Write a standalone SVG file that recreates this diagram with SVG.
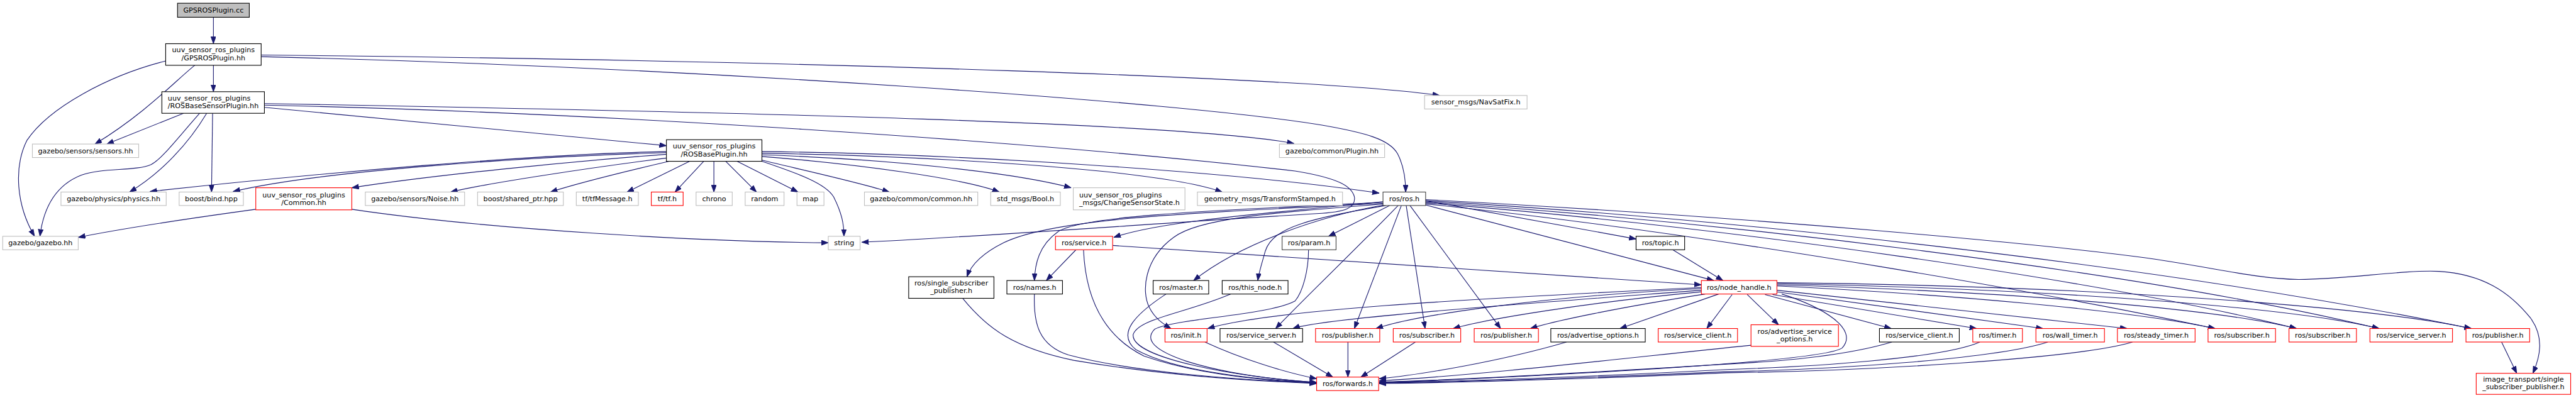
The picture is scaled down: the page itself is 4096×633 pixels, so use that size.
<svg xmlns="http://www.w3.org/2000/svg" width="4096" height="633" viewBox="0 0 4096 633">
<style>
.n rect{fill:#fff;stroke-width:1.3}
.g rect{stroke:#bfbfbf}
.b rect{stroke:#000}
.d rect{stroke:#404040}
.r rect{stroke:#ff0000}
.n text{font-family:"DejaVu Sans","Liberation Sans",sans-serif;font-size:13px;fill:#000;text-anchor:middle}
.n text.l{text-anchor:start}
#edges path{fill:none;stroke:#191970;stroke-width:1.3;marker-end:url(#ah)}
</style>
<defs>
<marker id="ah" markerUnits="userSpaceOnUse" markerWidth="14" markerHeight="10" refX="13" refY="4.7" orient="auto">
<path d="M0,0 L13,4.7 L0,9.4 z" fill="#191970" stroke="#191970" stroke-width="1"/>
</marker>
</defs>
<rect width="4096" height="633" fill="#fff"/>
<g transform="scale(0.858)">
<g id="edges">
<path d="M395.5,32 L395.5,81"/>
<path d="M395.5,121 L395.5,170"/>
<path d="M361,121 C330,145 270,210 176,267"/>
<path d="M307,113 C200,140 90,200 50,260 C25,310 30,380 64,438"/>
<path d="M484,102 C1500,112 2450,145 2668,177"/>
<path d="M484,105 C1300,125 2200,190 2450,232 C2530,246 2575,258 2590,285 C2603,310 2605,335 2605,356"/>
<path d="M340,210 L198,267"/>
<path d="M383,210 C350,265 300,320 240,356"/>
<path d="M394,210 L392,356"/>
<path d="M370,210 C330,255 300,295 280,305 C250,318 190,310 150,325 C100,345 80,390 74,438"/>
<path d="M490,199 L1235,270"/>
<path d="M490,192 C1400,208 2200,228 2398,266"/>
<path d="M490,195 C1100,208 1900,260 2400,317 C2480,330 2505,345 2510,365 C2513,385 2495,393 2440,396 C2200,410 1800,440 1597,449"/>
<path d="M1235,281 C1000,285 600,320 278,355"/>
<path d="M1235,283 C1000,290 600,315 432,355"/>
<path d="M1235,286 C1050,300 800,325 652,348"/>
<path d="M1235,293 C1100,310 900,340 835,356"/>
<path d="M1240,299 C1150,320 1060,343 1020,356"/>
<path d="M1278,299 L1162,356"/>
<path d="M1304,299 L1251,356"/>
<path d="M1323,299 L1323,356"/>
<path d="M1345,299 L1402,356"/>
<path d="M1366,299 L1479,356"/>
<path d="M1412,299 C1480,322 1530,340 1545,365 C1560,395 1564,415 1564,438"/>
<path d="M1412,297 C1500,318 1600,340 1648,356"/>
<path d="M1412,290 C1600,305 1790,332 1852,356"/>
<path d="M1412,287 C1650,295 1880,320 1985,348"/>
<path d="M1412,284 C1750,290 2150,315 2265,356"/>
<path d="M1412,281 C1800,285 2300,320 2556,358"/>
<path d="M474,388 C350,405 220,425 145,440"/>
<path d="M652,388 C900,425 1300,448 1535,450"/>
<path d="M2575,381 L2462,438"/>
<path d="M2642,372 L3032,443"/>
<path d="M2642,380 L3176,520"/>
<path d="M2597,381 L2510,609"/>
<path d="M2606,381 L2641,609"/>
<path d="M2613,381 L2781,609"/>
<path d="M2591,381 C2520,455 2420,550 2364,609"/>
<path d="M2563,374 C2350,395 2150,410 2064,440"/>
<path d="M2563,377 C2200,395 1950,405 1860,450 C1820,470 1800,490 1792,513"/>
<path d="M2563,375 C2250,390 2000,400 1960,430 C1925,455 1918,490 1917,520"/>
<path d="M2565,380 C2450,400 2300,450 2212,520"/>
<path d="M2568,381 C2430,405 2360,420 2345,465 C2338,490 2333,505 2331,520"/>
<path d="M2565,378 C2350,395 2220,405 2175,440 C2120,480 2115,540 2130,570 C2140,590 2155,600 2170,609"/>
<path d="M2642,378 C3200,435 3850,555 4105,609"/>
<path d="M2642,376 C3200,420 3900,520 4256,609"/>
<path d="M2642,374 C3200,412 3950,500 4409,609"/>
<path d="M2642,372 C3200,405 4000,490 4580,609"/>
<path d="M2642,370 C3300,405 3800,455 3969,477 C4100,495 4180,517 4260,518 C4350,518 4450,500 4520,503 C4600,508 4650,540 4690,590 C4715,625 4708,660 4694,692"/>
<path d="M3293,530 C3600,545 3950,575 4105,609"/>
<path d="M3293,528 C3700,540 4100,570 4256,609"/>
<path d="M3293,526 C3800,535 4250,570 4409,609"/>
<path d="M3293,524 C3900,530 4400,570 4580,609"/>
<path d="M3293,538 L3942,609"/>
<path d="M3293,541 L3786,609"/>
<path d="M3285,546 L3663,609"/>
<path d="M3271,546 L3505,609"/>
<path d="M3238,546 L3296,602"/>
<path d="M3210,546 L3163,609"/>
<path d="M3185,545 L3002,609"/>
<path d="M3160,545 C3000,570 2880,595 2836,609"/>
<path d="M3153,541 C2950,560 2760,590 2693,609"/>
<path d="M3153,535 C2850,550 2620,585 2550,609"/>
<path d="M3153,533 C2700,555 2350,575 2238,609"/>
<path d="M3153,538 C2800,565 2450,590 2396,609"/>
<path d="M3302,545 C3380,570 3445,610 3414,645 C3380,670 2900,695 2556,710"/>
<path d="M1994,463 L1939,520"/>
<path d="M2062,455 L3153,528"/>
<path d="M3100,463 L3193,520"/>
<path d="M2425,463 C2425,500 2415,540 2400,558 C2350,585 2180,590 2140,610 C2120,630 2140,650 2200,670 C2280,695 2380,705 2440,709"/>
<path d="M1784,553 C1830,610 1880,645 1990,668 C2150,695 2300,705 2440,711"/>
<path d="M1917,545 C1915,600 1925,640 1980,658 C2100,690 2300,705 2440,710"/>
<path d="M2008,463 C2012,560 2050,625 2120,660 C2220,695 2350,706 2440,710"/>
<path d="M2161,545 C2100,585 2070,620 2105,648 C2180,690 2340,705 2440,709"/>
<path d="M2281,545 C2200,580 2110,590 2100,620 C2095,665 2300,700 2440,709"/>
<path d="M2360,634 L2470,699"/>
<path d="M2233,634 C2300,665 2380,690 2440,702"/>
<path d="M2498,634 L2498,699"/>
<path d="M2623,634 L2522,699"/>
<path d="M2903,634 C2780,670 2630,695 2556,702"/>
<path d="M3245,640 C3000,665 2750,695 2556,706"/>
<path d="M3506,634 C3420,660 3300,670 3200,675 C2950,690 2700,705 2556,708"/>
<path d="M3669,634 C3600,665 3350,680 3200,685 C2950,698 2700,707 2556,709"/>
<path d="M3795,634 C3700,665 3400,685 3200,689 C2950,700 2700,708 2556,710"/>
<path d="M3952,634 C3850,665 3450,688 3200,691 C2950,702 2700,709 2556,711"/>
<path d="M4636,634 L4664,692"/>
</g>
<g id="n1" class="n b"><rect x="329" y="6" width="133" height="26" style="fill:#bfbfbf"/><text x="395.5" y="23.5">GPSROSPlugin.cc</text></g>
<g id="n2" class="n b"><rect x="307" y="81" width="177" height="40"/><text x="395.5" y="97">uuv_sensor_ros_plugins</text><text x="395.5" y="111.5">/GPSROSPlugin.hh</text></g>
<g id="n3" class="n b"><rect x="300" y="170" width="190" height="40"/><text class="l" x="311" y="186">uuv_sensor_ros_plugins</text><text class="l" x="311" y="201">/ROSBaseSensorPlugin.hh</text></g>
<g id="n4" class="n g"><rect x="60" y="267" width="197" height="25"/><text x="158.5" y="284">gazebo/sensors/sensors.hh</text></g>
<g id="n5" class="n g"><rect x="113" y="356" width="195" height="25"/><text x="210.5" y="373">gazebo/physics/physics.hh</text></g>
<g id="n6" class="n g"><rect x="332" y="356" width="119" height="25"/><text x="391.5" y="373">boost/bind.hpp</text></g>
<g id="n7" class="n r"><rect x="474" y="348" width="178" height="41"/><text x="563" y="365.5">uuv_sensor_ros_plugins</text><text x="563" y="379.5">/Common.hh</text></g>
<g id="n8" class="n g"><rect x="677" y="356" width="184" height="25"/><text x="769" y="373">gazebo/sensors/Noise.hh</text></g>
<g id="n9" class="n b"><rect x="1235" y="259" width="177" height="40"/><text x="1323.5" y="275.5">uuv_sensor_ros_plugins</text><text x="1323.5" y="290.5">/ROSBasePlugin.hh</text></g>
<g id="n10" class="n g"><rect x="885" y="356" width="159" height="25"/><text x="964.5" y="373">boost/shared_ptr.hpp</text></g>
<g id="n11" class="n g"><rect x="1068" y="356" width="115" height="25"/><text x="1125.5" y="373">tf/tfMessage.h</text></g>
<g id="n12" class="n r"><rect x="1207" y="356" width="59" height="25"/><text x="1236.5" y="373">tf/tf.h</text></g>
<g id="n13" class="n g"><rect x="1290" y="356" width="67" height="25"/><text x="1323.5" y="373">chrono</text></g>
<g id="n14" class="n g"><rect x="1381" y="356" width="72" height="25"/><text x="1417" y="373">random</text></g>
<g id="n15" class="n g"><rect x="1477" y="356" width="50" height="25"/><text x="1502" y="373">map</text></g>
<g id="n16" class="n g"><rect x="1602" y="356" width="210" height="25"/><text x="1707" y="373">gazebo/common/common.hh</text></g>
<g id="n17" class="n g"><rect x="1836" y="356" width="129" height="25"/><text x="1900.5" y="373">std_msgs/Bool.h</text></g>
<g id="n18" class="n g"><rect x="1989" y="348" width="207" height="41"/><text class="l" x="2000" y="365.5">uuv_sensor_ros_plugins</text><text class="l" x="2000" y="379.5">_msgs/ChangeSensorState.h</text></g>
<g id="n19" class="n g"><rect x="2219" y="356" width="269" height="25"/><text x="2353.5" y="373">geometry_msgs/TransformStamped.h</text></g>
<g id="n20" class="n g"><rect x="2371" y="267" width="195" height="25"/><text x="2468.5" y="284">gazebo/common/Plugin.hh</text></g>
<g id="n21" class="n g"><rect x="2640" y="177" width="190" height="25"/><text x="2735" y="194">sensor_msgs/NavSatFix.h</text></g>
<g id="n22" class="n d"><rect x="2563" y="356" width="79" height="25"/><text x="2602.5" y="373">ros/ros.h</text></g>
<g id="n23" class="n g"><rect x="5" y="438" width="140" height="25"/><text x="75" y="455">gazebo/gazebo.hh</text></g>
<g id="n24" class="n g"><rect x="1535" y="438" width="59" height="25"/><text x="1564.5" y="455">string</text></g>
<g id="n25" class="n r"><rect x="1956" y="438" width="106" height="25"/><text x="2009" y="455">ros/service.h</text></g>
<g id="n26" class="n b"><rect x="1684" y="513" width="158" height="40"/><text x="1763" y="529">ros/single_subscriber</text><text x="1763" y="543.5">_publisher.h</text></g>
<g id="n27" class="n b"><rect x="1866" y="520" width="103" height="25"/><text x="1917.5" y="537">ros/names.h</text></g>
<g id="n28" class="n b"><rect x="2137" y="520" width="103" height="25"/><text x="2188.5" y="537">ros/master.h</text></g>
<g id="n29" class="n b"><rect x="2265" y="520" width="122" height="25"/><text x="2326" y="537">ros/this_node.h</text></g>
<g id="n30" class="n d"><rect x="2376" y="438" width="100" height="25"/><text x="2426" y="455">ros/param.h</text></g>
<g id="n31" class="n b"><rect x="3032" y="438" width="90" height="25"/><text x="3077" y="455">ros/topic.h</text></g>
<g id="n32" class="n r"><rect x="3153" y="520" width="140" height="25"/><text x="3223" y="537">ros/node_handle.h</text></g>
<g id="n33" class="n r"><rect x="2159" y="609" width="78" height="25"/><text x="2198" y="626">ros/init.h</text></g>
<g id="n34" class="n b"><rect x="2261" y="609" width="153" height="25"/><text x="2337.5" y="626">ros/service_server.h</text></g>
<g id="n35" class="n r"><rect x="2438" y="609" width="119" height="25"/><text x="2497.5" y="626">ros/publisher.h</text></g>
<g id="n36" class="n r"><rect x="2582" y="609" width="125" height="25"/><text x="2644.5" y="626">ros/subscriber.h</text></g>
<g id="n37" class="n r"><rect x="2732" y="609" width="119" height="25"/><text x="2791.5" y="626">ros/publisher.h</text></g>
<g id="n38" class="n b"><rect x="2874" y="609" width="175" height="25"/><text x="2961.5" y="626">ros/advertise_options.h</text></g>
<g id="n39" class="n r"><rect x="3073" y="609" width="147" height="25"/><text x="3146.5" y="626">ros/service_client.h</text></g>
<g id="n40" class="n r"><rect x="3245" y="602" width="162" height="40"/><text x="3326" y="618.5">ros/advertise_service</text><text x="3326" y="633">_options.h</text></g>
<g id="n41" class="n b"><rect x="3483" y="609" width="148" height="25"/><text x="3557" y="626">ros/service_client.h</text></g>
<g id="n42" class="n r"><rect x="3656" y="609" width="92" height="25"/><text x="3702" y="626">ros/timer.h</text></g>
<g id="n43" class="n r"><rect x="3773" y="609" width="127" height="25"/><text x="3836.5" y="626">ros/wall_timer.h</text></g>
<g id="n44" class="n r"><rect x="3924" y="609" width="144" height="25"/><text x="3996" y="626">ros/steady_timer.h</text></g>
<g id="n45" class="n r"><rect x="4092" y="609" width="125" height="25"/><text x="4154.5" y="626">ros/subscriber.h</text></g>
<g id="n46" class="n r"><rect x="4242" y="609" width="125" height="25"/><text x="4304.5" y="626">ros/subscriber.h</text></g>
<g id="n47" class="n r"><rect x="4392" y="609" width="153" height="25"/><text x="4468.5" y="626">ros/service_server.h</text></g>
<g id="n48" class="n r"><rect x="4570" y="609" width="118" height="25"/><text x="4629" y="626">ros/publisher.h</text></g>
<g id="n49" class="n r"><rect x="2440" y="699" width="115" height="25"/><text x="2497.5" y="716">ros/forwards.h</text></g>
<g id="n50" class="n r"><rect x="4589" y="692" width="175" height="39"/><text x="4676.5" y="707.5">image_transport/single</text><text x="4676.5" y="722">_subscriber_publisher.h</text></g>
</g>
</svg>
